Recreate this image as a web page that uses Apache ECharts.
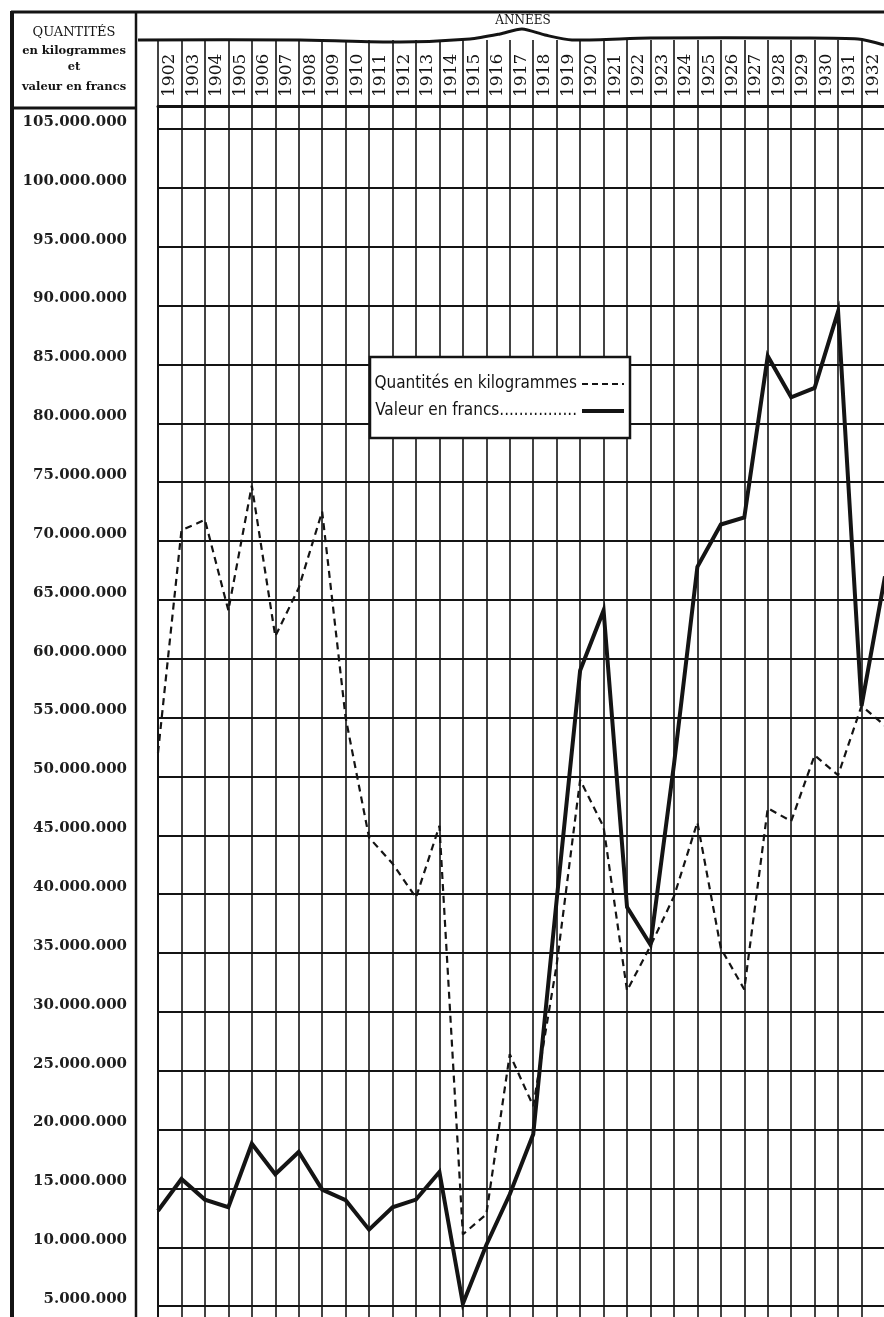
<!DOCTYPE html>
<html>
<head>
<meta charset="utf-8">
<script src="https://cdn.jsdelivr.net/npm/echarts@6/dist/echarts.min.js"></script>
<style>
html,body{margin:0;padding:0;background:#fff;overflow:hidden;width:884px;height:1317px;}
#c{width:890px;height:1372px;}
</style>
</head>
<body>
<div id="c"></div>
<script>
// Column labels (one column per year)
const years = ['1902','1903','1904','1905','1906','1907','1908','1909','1910','1911','1912','1913','1914','1915','1916','1917','1918','1919','1920','1921','1922','1923','1924','1925','1926','1927','1928','1929','1930','1931','1932'];
// Data points sit on the year boundaries: value at the end of each year
const pointYears = [1901,1902,1903,1904,1905,1906,1907,1908,1909,1910,1911,1912,1913,1914,1915,1916,1917,1918,1919,1920,1921,1922,1923,1924,1925,1926,1927,1928,1929,1930,1931,1932];
// Quantités en kilogrammes (millions)
const quantites = [52.0,70.9,71.8,64.1,74.7,61.9,66.0,72.5,55.0,44.8,42.6,39.7,45.8,11.1,12.8,26.4,22.0,34.0,49.7,45.7,31.8,35.6,39.8,46.1,35.4,31.9,47.3,46.2,51.8,50.1,56.0,54.3];
// Valeur en francs (millions)
const valeur = [13.1,15.8,14.05,13.4,18.8,16.2,18.1,14.9,14.0,11.5,13.4,14.05,16.4,5.2,10.2,14.5,19.6,39.5,59.0,64.1,38.9,35.7,51.0,67.8,71.4,72.0,85.7,82.2,83.0,89.5,56.0,67.0];
const seriesNames = ['Quantités en kilogrammes', 'Valeur en francs'];
const headerLines = ['QUANTITÉS', 'en kilogrammes', 'et', 'valeur en francs'];
const headerTitle = 'ANNÉES';

function fmtMillions(v) {
  const n = Math.round(v * 1e6);
  return String(n).replace(/\B(?=(\d{3})+(?!\d))/g, '.');
}

const ink = '#141414';
const clear = 'rgba(0,0,0,0)';
const chart = echarts.init(document.getElementById('c'), null, {renderer: 'canvas'});

const option = {
  animation: false,
  backgroundColor: '#ffffff',
  color: [ink, ink],
  grid: {left: 158, top: 106, width: 727, height: 1259, containLabel: false},
  xAxis: [
    {type: 'value', min: 1901, max: 1932, show: false, gridIndex: 0},
    {
      type: 'category', data: years, position: 'top', boundaryGap: true, gridIndex: 0,
      axisLine: {show: true, lineStyle: {color: ink, width: 3}},
      axisTick: {show: true, interval: 0, alignWithLabel: false, length: 66, lineStyle: {color: ink, width: 1.6}},
      axisLabel: {interval: 0, rotate: -90, margin: 9, fontFamily: 'DejaVu Serif', fontSize: 17, color: ink},
      splitLine: {show: true, interval: 0, lineStyle: {color: ink, width: 1.6}}
    }
  ],
  yAxis: {
    type: 'value', min: 0, max: 106.95, interval: 5,
    axisLine: {show: true, lineStyle: {color: ink, width: 2}},
    axisTick: {show: false},
    axisLabel: {
      margin: 31, fontFamily: 'DejaVu Serif', fontWeight: 'bold', fontSize: 15, color: '#1e1e1e',
      verticalAlign: 'bottom', lineHeight: 14,
      formatter: function (v) { return (Math.abs(v % 5) < 1e-9 && v > 0) ? fmtMillions(v) : ''; }
    },
    splitLine: {show: true, lineStyle: {color: ink, width: 1.9}}
  },
  legend: {
    left: 370, top: 357, orient: 'vertical', align: 'right',
    itemWidth: 42, itemHeight: 14, itemGap: 7,
    padding: [17, 4, 17, 3],
    backgroundColor: '#ffffff', borderColor: ink, borderWidth: 2.5,
    itemStyle: {color: clear, borderColor: clear, borderWidth: 0},
    textStyle: {fontFamily: '"DejaVu Sans Condensed", "Liberation Sans Narrow", "DejaVu Sans", sans-serif', fontSize: 17, color: ink, width: 204, lineHeight: 20},
    formatter: function (name) { return name === seriesNames[1] ? name + '................' : name; },
    data: [
      {name: seriesNames[0], itemStyle: {color: clear, borderColor: clear}, lineStyle: {width: 2, type: [6, 4], color: ink}},
      {name: seriesNames[1], itemStyle: {color: clear, borderColor: clear}, lineStyle: {width: 4, color: ink}}
    ]
  },
  series: [
    {
      name: seriesNames[0], type: 'line', xAxisIndex: 0, yAxisIndex: 0,
      data: pointYears.map((y, i) => [y, quantites[i]]),
      symbol: 'none', showSymbol: false, clip: true, z: 3,
      itemStyle: {color: ink},
      lineStyle: {color: ink, width: 2.2, type: [7, 5]}
    },
    {
      name: seriesNames[1], type: 'line', xAxisIndex: 0, yAxisIndex: 0,
      data: pointYears.map((y, i) => [y, valeur[i]]),
      symbol: 'none', showSymbol: false, clip: true, z: 4,
      itemStyle: {color: ink},
      lineStyle: {color: ink, width: 4, join: 'miter', miterLimit: 6}
    }
  ],
  graphic: [
    {type: 'line', shape: {x1: 11, y1: 12, x2: 890, y2: 12}, style: {stroke: ink, lineWidth: 3}, z: 10},
    {type: 'line', shape: {x1: 12, y1: 11, x2: 12, y2: 1372}, style: {stroke: ink, lineWidth: 4}, z: 10},
    {type: 'line', shape: {x1: 136, y1: 12, x2: 136, y2: 1372}, style: {stroke: ink, lineWidth: 2.5}, z: 10},
    {type: 'line', shape: {x1: 12, y1: 108, x2: 136, y2: 108}, style: {stroke: ink, lineWidth: 3}, z: 10},
    {type: 'polyline', shape: {points: [[138,40],[300,40],[400,42],[470,39],[500,34],[522,29],[545,35],[572,40],[650,38],[800,38],[858,39],[884,45]], smooth: 0.25},
      style: {stroke: ink, lineWidth: 3, fill: null}, z: 10},
    {type: 'text', style: {text: headerTitle, x: 523, y: 21, align: 'center', verticalAlign: 'middle', fontFamily: 'DejaVu Serif', fontSize: 12, fill: ink}, z: 10},
    {type: 'text', style: {text: headerLines[0], x: 74, y: 33, align: 'center', verticalAlign: 'middle', fontFamily: 'DejaVu Serif', fontSize: 13, fill: ink}, z: 10},
    {type: 'text', style: {text: headerLines[1], x: 74, y: 51, align: 'center', verticalAlign: 'middle', fontFamily: 'DejaVu Serif', fontWeight: 'bold', fontSize: 11.5, fill: ink}, z: 10},
    {type: 'text', style: {text: headerLines[2], x: 74, y: 67, align: 'center', verticalAlign: 'middle', fontFamily: 'DejaVu Serif', fontWeight: 'bold', fontSize: 11.5, fill: ink}, z: 10},
    {type: 'text', style: {text: headerLines[3], x: 74, y: 87, align: 'center', verticalAlign: 'middle', fontFamily: 'DejaVu Serif', fontWeight: 'bold', fontSize: 11.5, fill: ink}, z: 10}
  ]
};
chart.setOption(option);
</script>
</body>
</html>
